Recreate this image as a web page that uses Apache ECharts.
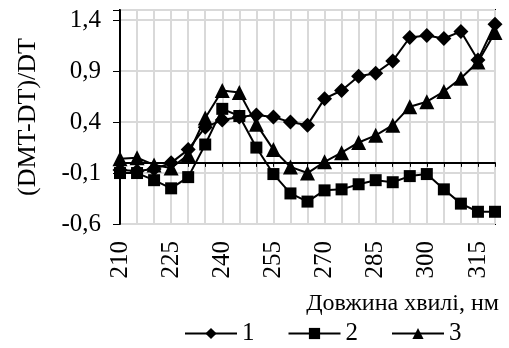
<!DOCTYPE html>
<html><head><meta charset="utf-8">
<script src="https://cdn.jsdelivr.net/npm/echarts@6/dist/echarts.min.js"></script>
<style>html,body{margin:0;padding:0;background:#fff}#c{width:509px;height:348px}</style>
</head><body><div id="c"></div>
<script>
const categories = ['210','215','220','225','230','235','240','245','250','255','260','265','270','275','280','285','290','295','300','305','310','315','320'];
const series1 = [-0.07,-0.08,-0.06,0.0,0.13,0.35,0.42,0.45,0.47,0.45,0.40,0.37,0.63,0.71,0.85,0.88,1.0,1.23,1.25,1.22,1.29,1.01,1.36];
const series2 = [-0.1,-0.1,-0.17,-0.25,-0.14,0.18,0.53,0.46,0.15,-0.11,-0.3,-0.38,-0.27,-0.26,-0.21,-0.17,-0.19,-0.13,-0.11,-0.26,-0.40,-0.48,-0.48];
const series3 = [0.04,0.05,-0.02,-0.05,0.08,0.44,0.71,0.69,0.38,0.13,-0.04,-0.1,0.01,0.10,0.20,0.27,0.37,0.55,0.60,0.70,0.83,0.99,1.28];
const seriesNames = ['1','2','3'];
const yTicks = [-0.6,-0.1,0.4,0.9,1.4];

const FONT = "'Liberation Serif', 'Times New Roman', serif";
const chart = echarts.init(document.getElementById('c'), null, {renderer:'canvas'});
function mk(name, data, symbol, size){
  return {name, type:'line', data, symbol, symbolSize:size, showSymbol:true, showAllSymbol:true,
    lineStyle:{color:'#000', width:2}, itemStyle:{color:'#000'}, animation:false};
}
const s1 = mk(seriesNames[0], series1, 'diamond', 15);
s1.markLine = {silent:true, symbol:'none', label:{show:false}, lineStyle:{color:'#000', width:1, type:'solid'}, data:[{yAxis:0}], animation:false};
chart.setOption({
  animation:false,
  textStyle:{fontFamily:FONT},
  grid:{left:120, right:14, top:10, bottom:124, show:true, borderColor:'#000', borderWidth:2, containLabel:false},
  title:{text:'Довжина хвилі, нм', right:5, top:287, textStyle:{fontFamily:FONT, fontSize:24, fontWeight:'normal', color:'#000'}},
  legend:{top:321, left:184, padding:0, itemWidth:52, itemHeight:14, itemGap:33, data:seriesNames,
    textStyle:{fontFamily:FONT, fontSize:25, color:'#000'}},
  xAxis:{type:'category', data:categories, boundaryGap:false,
    axisLine:{show:true, lineStyle:{color:'#000', width:2}},
    axisTick:{show:true, interval:0, length:4, lineStyle:{color:'#000'}},
    axisLabel:{interval:2, rotate:90, fontFamily:FONT, fontSize:25, color:'#000', margin:17},
    splitLine:{show:true, interval:0, lineStyle:{color:'#d9d9d9', width:2}}},
  yAxis:{type:'value', min:-0.6, max:1.5, interval:0.5,
    name:'(DMT-DT)/DT', nameLocation:'middle', nameGap:79, nameRotate:90,
    nameTextStyle:{fontFamily:FONT, fontSize:26, color:'#000'},
    axisLine:{show:true, lineStyle:{color:'#000', width:2}},
    axisTick:{show:true, length:7, lineStyle:{color:'#000'}},
    axisLabel:{fontFamily:FONT, fontSize:25, color:'#000', margin:19,
      formatter:function(v){ const t = yTicks.find(x=>Math.abs(x-v)<1e-6); return t===undefined?'':t.toFixed(1).replace('.',','); }},
    splitLine:{show:true, lineStyle:{color:'#d9d9d9', width:2}}},
  series:[s1, mk(seriesNames[1], series2, 'rect', 12), mk(seriesNames[2], series3, 'triangle', 15)]
});
</script></body></html>
